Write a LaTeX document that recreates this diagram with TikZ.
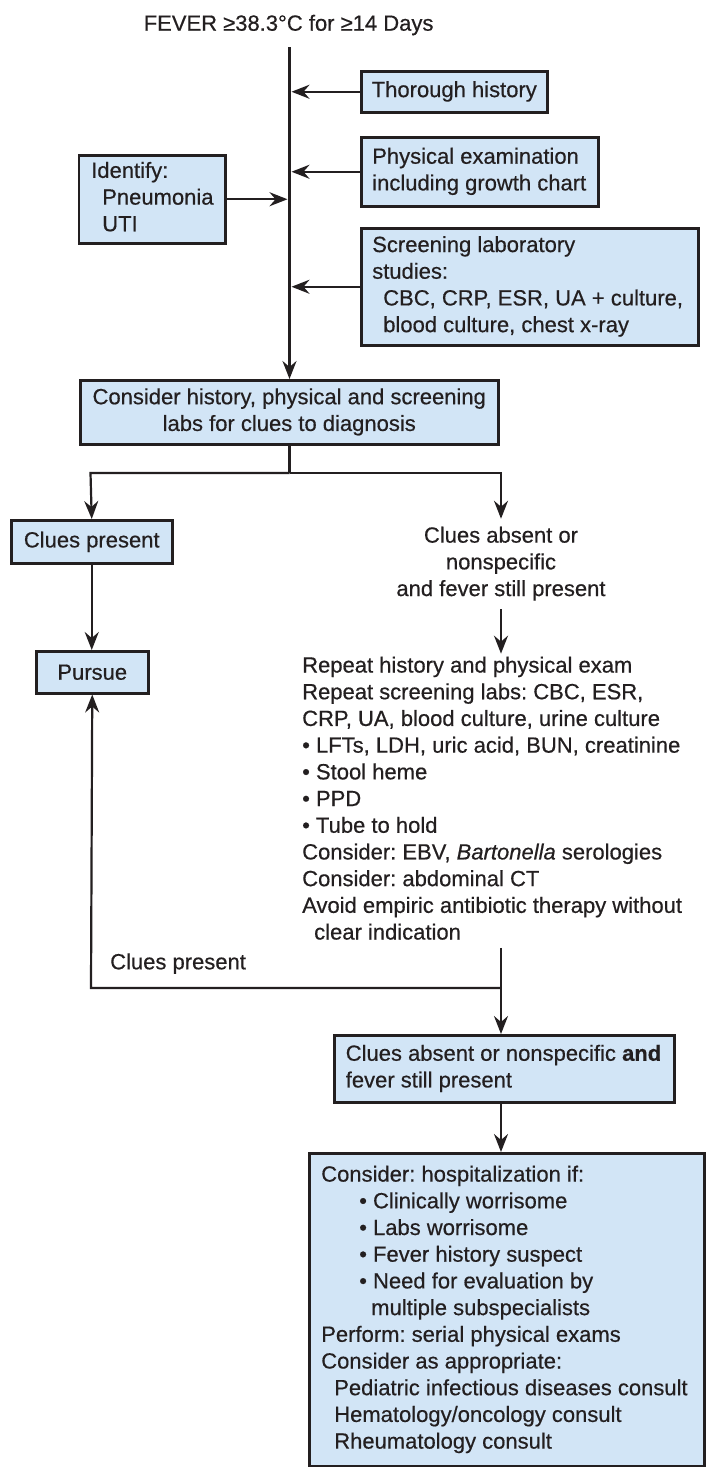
\documentclass[tikz,border=0pt]{standalone}
\usepackage{fontspec}
\setmainfont{Liberation Sans}[RawFeature={embolden=0.5}]
\usetikzlibrary{arrows.meta}
\definecolor{boxfill}{RGB}{210,229,246}
\definecolor{ink}{RGB}{35,31,32}
\newcommand\lbox[2]{\makebox[#1][l]{\begin{tabular}{@{}l@{}}#2\end{tabular}}}
\newcommand\cbox[1]{\begin{tabular}{@{}c@{}}#1\end{tabular}}
\frenchspacing
\begin{document}
\frenchspacing
\begin{tikzpicture}[x=1pt,y=-1pt,
  every node/.style={font=\fontsize{22}{26.7}\selectfont\frenchspacing, text=ink},
  box/.style={draw=ink, fill=boxfill, line width=2.5pt, inner sep=0pt, anchor=north west},
  lbl/.style={inner sep=0pt},
  conn/.style={draw=ink, line width=2.2pt},
  arr/.style={conn, -{Stealth[length=18pt,width=14pt,inset=6pt]}}]
\fill[white] (0,0) rectangle (706,1467);
\useasboundingbox (0,0) rectangle (706,1467);

% title and main line
\node[lbl, anchor=base] (title) at (288.6,30.7) {FEVER ≥38.3°C for ≥14 Days};
\coordinate (top) at (289.5,47);

% boxes on the main line
\node[box, minimum width=186pt, minimum height=41pt] (th) at (360,70)
  {\lbox{165pt}{Thorough history}};
\node[box, minimum width=237pt, minimum height=69pt] (pe) at (360,136)
  {\lbox{215pt}{Physical examination\\including growth chart}};
\node[box, minimum width=146.5pt, minimum height=88pt] (id) at (77.5,154)
  {\lbox{121.5pt}{Identify:\\\hspace*{11pt}Pneumonia\\\hspace*{11pt}UTI}};
\node[box, minimum width=337pt, minimum height=117pt] (sc) at (360,227)
  {\lbox{315pt}{Screening laboratory\\studies:\\\hspace*{11pt}CBC, CRP, ESR, UA + culture,\\\hspace*{11pt}blood culture, chest x-ray}};
\node[box, minimum width=418pt, minimum height=64pt] (cons) at (79,379)
  {\cbox{Consider history, physical and screening\\labs for clues to diagnosis}};

% branches
\node[box, minimum width=161pt, minimum height=43pt] (cp) at (10,519) {Clues present};
\node[box, minimum width=112pt, minimum height=42pt] (pu) at (35,650) {Pursue};
\node[lbl, inner sep=5pt] (abs) at (501,564)
  {\cbox{Clues absent or\\nonspecific\\and fever still present}};
\node[lbl, anchor=west] (rep) at (302,800.7)
  {\begin{tabular}{@{}l@{}}Repeat history and physical exam\\
  Repeat screening labs: CBC, ESR,\\
  CRP, UA, blood culture, urine culture\\
  • LFTs, LDH, uric acid, BUN, creatinine\\
  • Stool heme\\
  • PPD\\
  • Tube to hold\\
  Consider: EBV, \textit{Bartonella} serologies\\
  Consider: abdominal CT\\
  Avoid empiric antibiotic therapy without\\
  \hspace*{12pt}clear indication\end{tabular}};
\node[lbl, anchor=base west] (cpl) at (110,969.3) {Clues present};

\node[box, minimum width=340pt, minimum height=67pt] (ca) at (333,1034)
  {\lbox{317pt}{Clues absent or nonspecific \textbf{and}\\fever still present}};
\node[box, minimum width=395pt, minimum height=313pt] (fin) at (308,1152)
  {\lbox{371pt}{Consider: hospitalization if:\\
  \hspace*{38pt}• Clinically worrisome\\
  \hspace*{38pt}• Labs worrisome\\
  \hspace*{38pt}• Fever history suspect\\
  \hspace*{38pt}• Need for evaluation by\\
  \hspace*{50pt}multiple subspecialists\\
  Perform: serial physical exams\\
  Consider as appropriate:\\
  \hspace*{13pt}Pediatric infectious diseases consult\\
  \hspace*{13pt}Hematology/oncology consult\\
  \hspace*{13pt}Rheumatology consult}};

% connectors
\coordinate (sp) at (289.5,473);
\coordinate (spl) at (90.5,473);
\coordinate (spr) at (501,473);
\coordinate (fbr) at (501,988);
\coordinate (fbl) at (91,988);

\draw[arr] (top) -- (top |- cons.north);
\draw[arr, shorten >=2pt] (th.west) -- (th.west -| top);
\draw[arr, shorten >=2pt] (pe.west) -- (pe.west -| top);
\draw[arr, shorten >=2pt] (sc.west) -- (sc.west -| top);
\draw[arr, shorten >=2pt] (id.east) -- (id.east -| top);
\draw[conn] (cons.south -| top) -- (sp);
\draw[arr] (sp) -- (spl) -- (cp.north);
\draw[arr] (sp) -- (spr) -- (abs.north);
\draw[arr] (cp.south) -- (cp.south |- pu.north);
\draw[arr] (abs.south) -- (abs.south |- rep.north);
\draw[arr] (rep.south -| fbr) -- (fbr |- ca.north);
\draw[arr] (fbr) -- (fbl) -- (pu.south);
\draw[arr] (ca.south -| fbr) -- (fbr |- fin.north);
\end{tikzpicture}
\end{document}
